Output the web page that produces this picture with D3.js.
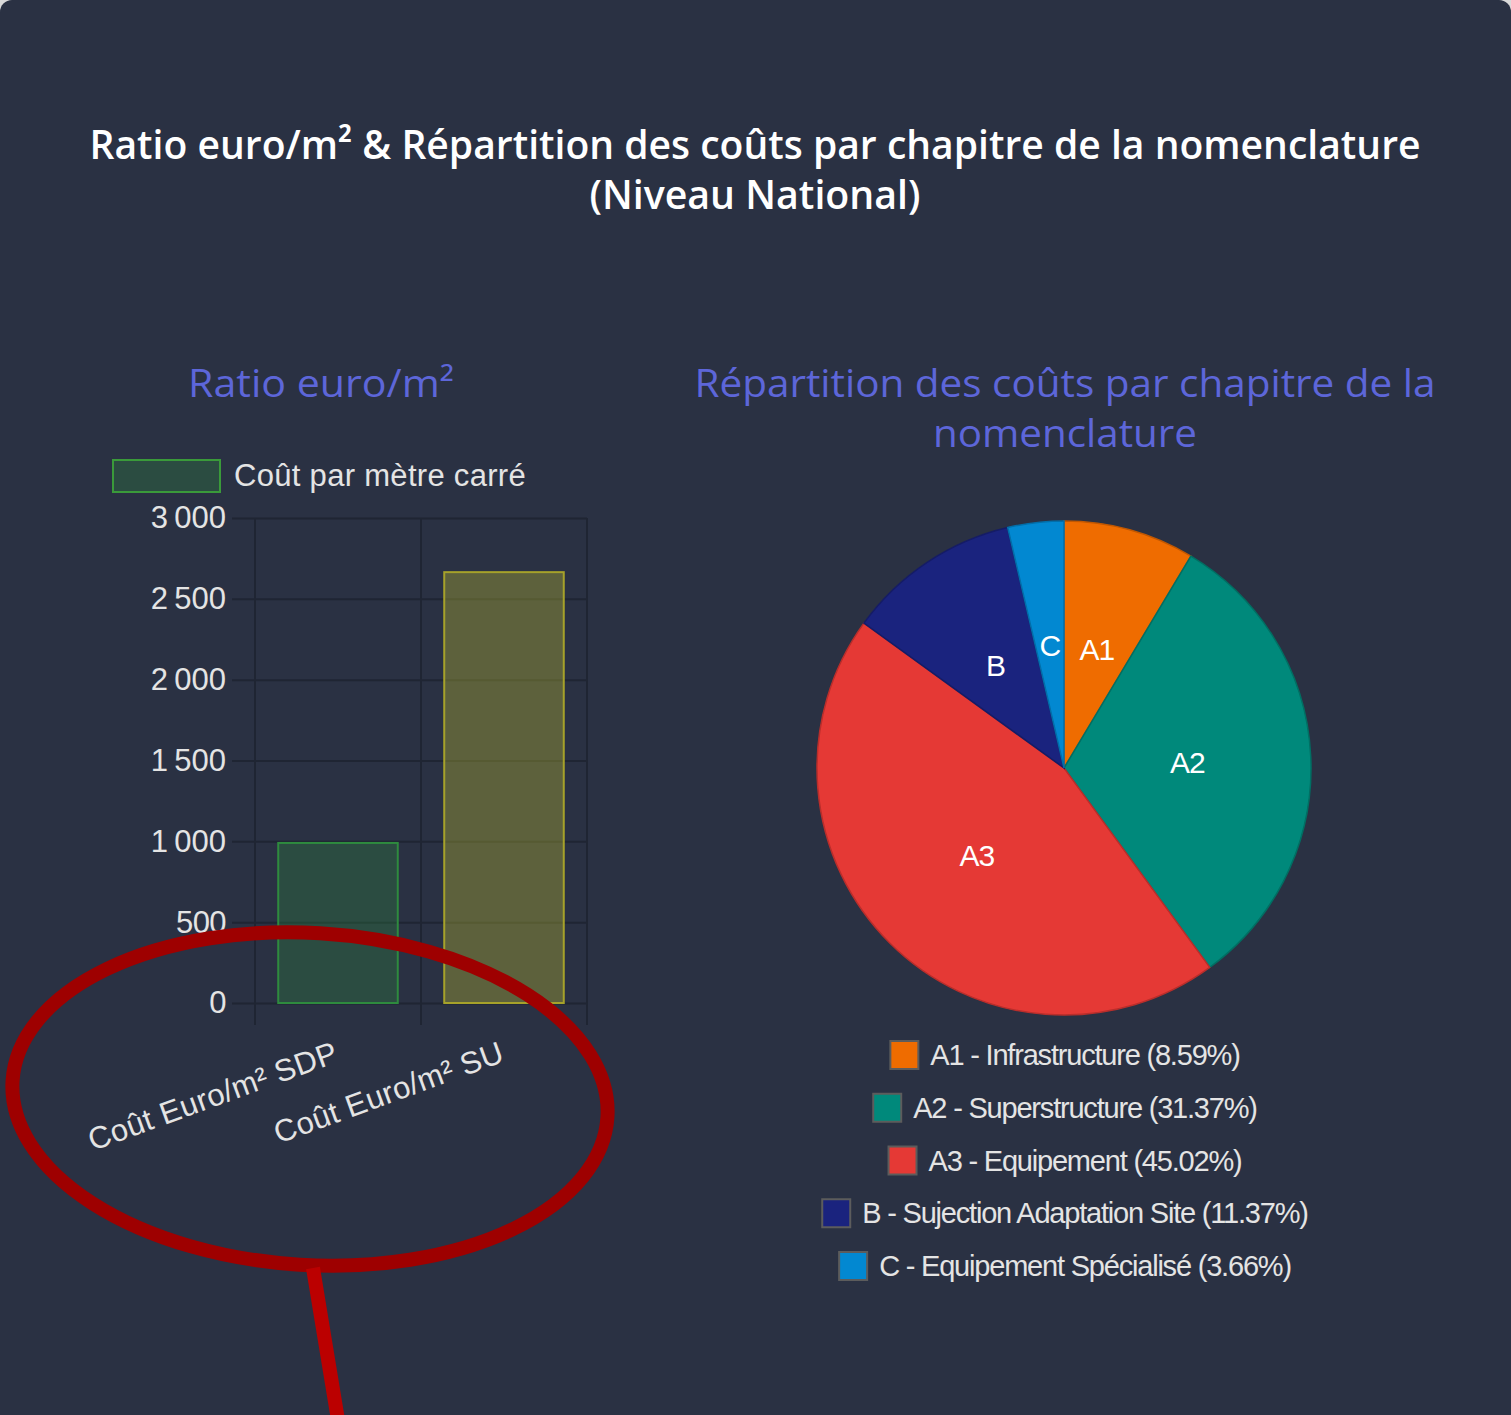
<!DOCTYPE html>
<html>
<head>
<meta charset="utf-8">
<script src="https://cdn.jsdelivr.net/npm/d3@7"></script>
<style>
  html, body { margin: 0; padding: 0; background: #d9d9d9; }
  #chart { width: 1511px; height: 1415px; }
  svg { display: block; }
</style>
</head>
<body>
<div id="chart"></div>
<script>
// bar chart data
var barCategories = ["Coût Euro/m² SDP", "Coût Euro/m² SU"];
var barValues = [990, 2665];
var barSeriesName = "Coût par mètre carré";
var yTicks = [0, 500, 1000, 1500, 2000, 2500, 3000];

// pie data
var pieCodes = ["A1", "A2", "A3", "B", "C"];
var pieNames = ["Infrastructure", "Superstructure", "Equipement", "Sujection Adaptation Site", "Equipement Spécialisé"];
var pieValues = [8.59, 31.37, 45.02, 11.37, 3.66];
var pieColors = ["#ef6c00", "#00897b", "#e53935", "#1a237e", "#0288d1"];

var W = 1511, H = 1415;
var bg = "#2a3143";

var svg = d3.select("#chart").append("svg")
    .attr("width", W)
    .attr("height", H);

// card
svg.append("rect")
    .attr("x", 0).attr("y", 0)
    .attr("width", W).attr("height", H + 20)
    .attr("rx", 12)
    .attr("fill", bg);

// ---------- titles ----------
var titleFont = "'Open Sans', sans-serif";
svg.append("text")
    .attr("x", 755).attr("y", 159)
    .attr("text-anchor", "middle")
    .attr("font-family", titleFont).attr("font-weight", 600).attr("font-size", 40)
    .attr("textLength", 1331).attr("lengthAdjust", "spacingAndGlyphs")
    .attr("fill", "#ffffff")
    .text("Ratio euro/m² & Répartition des coûts par chapitre de la nomenclature");
svg.append("text")
    .attr("x", 755).attr("y", 209)
    .attr("text-anchor", "middle")
    .attr("font-family", titleFont).attr("font-weight", 600).attr("font-size", 40)
    .attr("textLength", 331).attr("lengthAdjust", "spacingAndGlyphs")
    .attr("fill", "#ffffff")
    .text("(Niveau National)");

var subColor = "#5d66d9";
svg.append("text")
    .attr("x", 321).attr("y", 397)
    .attr("text-anchor", "middle")
    .attr("font-family", titleFont).attr("font-weight", 500).attr("font-size", 38)
    .attr("textLength", 266).attr("lengthAdjust", "spacingAndGlyphs")
    .attr("fill", subColor)
    .text("Ratio euro/m²");
svg.append("text")
    .attr("x", 1065).attr("y", 397)
    .attr("text-anchor", "middle")
    .attr("font-family", titleFont).attr("font-weight", 500).attr("font-size", 38)
    .attr("textLength", 741).attr("lengthAdjust", "spacingAndGlyphs")
    .attr("fill", subColor)
    .text("Répartition des coûts par chapitre de la");
svg.append("text")
    .attr("x", 1065).attr("y", 447)
    .attr("text-anchor", "middle")
    .attr("font-family", titleFont).attr("font-weight", 500).attr("font-size", 38)
    .attr("textLength", 264).attr("lengthAdjust", "spacingAndGlyphs")
    .attr("fill", subColor)
    .text("nomenclature");

// ---------- bar chart ----------
var labelFont = "'Liberation Sans', Arial, sans-serif";
var textColor = "#e4e4e4";
var gridColor = "#1f2533";

var plot = {left: 255, right: 587, top: 518, bottom: 1003};

var y = d3.scaleLinear()
    .domain([0, 3000])
    .range([plot.bottom, plot.top]);

var x = d3.scaleBand()
    .domain(barCategories)
    .range([plot.left, plot.right]);

var fr = d3.formatLocale({decimal: ",", thousands: "\u202f", grouping: [3], currency: ["", " €"]});

// y axis with grid
var yAxis = d3.axisLeft(y)
    .tickValues(yTicks)
    .tickFormat(fr.format(",d"))
    .tickSize(-(plot.right - plot.left + 23))
    .tickPadding(6);

var gy = svg.append("g")
    .attr("transform", "translate(" + (plot.left - 23) + ",0)")
    .call(yAxis);
gy.select(".domain").remove();
gy.selectAll(".tick line")
    .attr("stroke", gridColor).attr("stroke-width", 2);
gy.selectAll(".tick text")
    .attr("fill", textColor)
    .attr("font-family", labelFont)
    .attr("font-size", 31)
    .attr("letter-spacing", -0.6);

// vertical grid at category boundaries
var xEdges = x.domain().map(function(d) { return x(d); }).concat([plot.right]);
svg.append("g").selectAll("line")
    .data(xEdges)
  .enter().append("line")
    .attr("x1", function(d) { return d; })
    .attr("x2", function(d) { return d; })
    .attr("y1", plot.top)
    .attr("y2", plot.bottom + 22)
    .attr("stroke", gridColor).attr("stroke-width", 2);

var barFill = ["rgba(46,139,62,0.3)", "rgba(190,190,50,0.35)"];
var barStroke = ["#2e8b3e", "#a6a22a"];
var bw = x.bandwidth() * 0.72;

svg.append("g").selectAll("rect")
    .data(barValues)
  .enter().append("rect")
    .attr("x", function(d, i) { return x(barCategories[i]) + (x.bandwidth() - bw) / 2; })
    .attr("y", function(d) { return y(d); })
    .attr("width", bw)
    .attr("height", function(d) { return y(0) - y(d); })
    .attr("fill", function(d, i) { return barFill[i]; })
    .attr("stroke", function(d, i) { return barStroke[i]; })
    .attr("stroke-width", 2);

// x labels rotated
svg.append("g").selectAll("text")
    .data(barCategories)
  .enter().append("text")
    .attr("transform", function(d) {
      return "translate(" + (x(d) + x.bandwidth() / 2 + 2) + "," + (plot.bottom + 58) + ") rotate(-20)";
    })
    .attr("text-anchor", "end")
    .attr("font-family", labelFont)
    .attr("font-size", 31)
    .attr("letter-spacing", 0.4)
    .attr("fill", textColor)
    .text(function(d) { return d; });

// bar legend
svg.append("rect")
    .attr("x", 113).attr("y", 460)
    .attr("width", 107).attr("height", 32)
    .attr("fill", barFill[0])
    .attr("stroke", "#3a9a3a").attr("stroke-width", 2);
svg.append("text")
    .attr("x", 234).attr("y", 486)
    .attr("font-family", labelFont)
    .attr("font-size", 31)
    .attr("letter-spacing", 0.3)
    .attr("fill", textColor)
    .text(barSeriesName);

// ---------- pie chart ----------
var cx = 1064, cy = 768, r = 247;
var pie = d3.pie().sort(null).value(function(d) { return d; });
var arc = d3.arc().innerRadius(0).outerRadius(r);
var labelArc = d3.arc().innerRadius(r / 2).outerRadius(r / 2);
var arcs = pie(pieValues);

var gp = svg.append("g").attr("transform", "translate(" + cx + "," + cy + ")");
gp.selectAll("path")
    .data(arcs)
  .enter().append("path")
    .attr("d", arc)
    .attr("fill", function(d, i) { return pieColors[i]; })
    .attr("stroke", function(d, i) { return d3.color(pieColors[i]).darker(0.6); })
    .attr("stroke-width", 1.5);

gp.selectAll("text")
    .data(arcs)
  .enter().append("text")
    .attr("transform", function(d) {
      var c = labelArc.centroid(d);
      return "translate(" + c[0] + "," + c[1] + ")";
    })
    .attr("text-anchor", "middle")
    .attr("dy", "0.36em")
    .attr("font-family", labelFont)
    .attr("font-size", 30)
    .attr("letter-spacing", -1)
    .attr("fill", "#ffffff")
    .text(function(d, i) { return pieCodes[i]; });

// pie legend
var legendTop = 1055, legendStep = 52.75;
var lg = svg.append("g").selectAll("g")
    .data(pieCodes)
  .enter().append("g");

lg.append("text")
    .attr("class", "ltext")
    .attr("font-family", labelFont)
    .attr("font-size", 29)
    .attr("letter-spacing", -1.2)
    .attr("fill", textColor)
    .attr("y", function(d, i) { return legendTop + i * legendStep + 10; })
    .text(function(d, i) { return d + " - " + pieNames[i] + " (" + pieValues[i].toFixed(2) + "%)"; });

lg.each(function(d, i) {
  var g = d3.select(this);
  var t = g.select("text");
  var tw = t.node().getComputedTextLength();
  var total = 28 + 12 + tw;
  var x0 = cx + 1 - total / 2;
  g.insert("rect", "text")
    .attr("x", x0).attr("y", legendTop + i * legendStep - 14)
    .attr("width", 28).attr("height", 28)
    .attr("fill", pieColors[i])
    .attr("stroke", "#5c5c5c").attr("stroke-width", 2);
  t.attr("x", x0 + 40);
});

// ---------- red annotation ----------
svg.append("ellipse")
    .attr("cx", 0).attr("cy", 0)
    .attr("rx", 298).attr("ry", 166)
    .attr("transform", "translate(310,1099) rotate(3.5)")
    .attr("fill", "none")
    .attr("stroke", "#9e0000")
    .attr("stroke-width", 14);
svg.append("line")
    .attr("x1", 313).attr("y1", 1268)
    .attr("x2", 338).attr("y2", 1420)
    .attr("stroke", "#bb0000")
    .attr("stroke-width", 14);
</script>
</body>
</html>
